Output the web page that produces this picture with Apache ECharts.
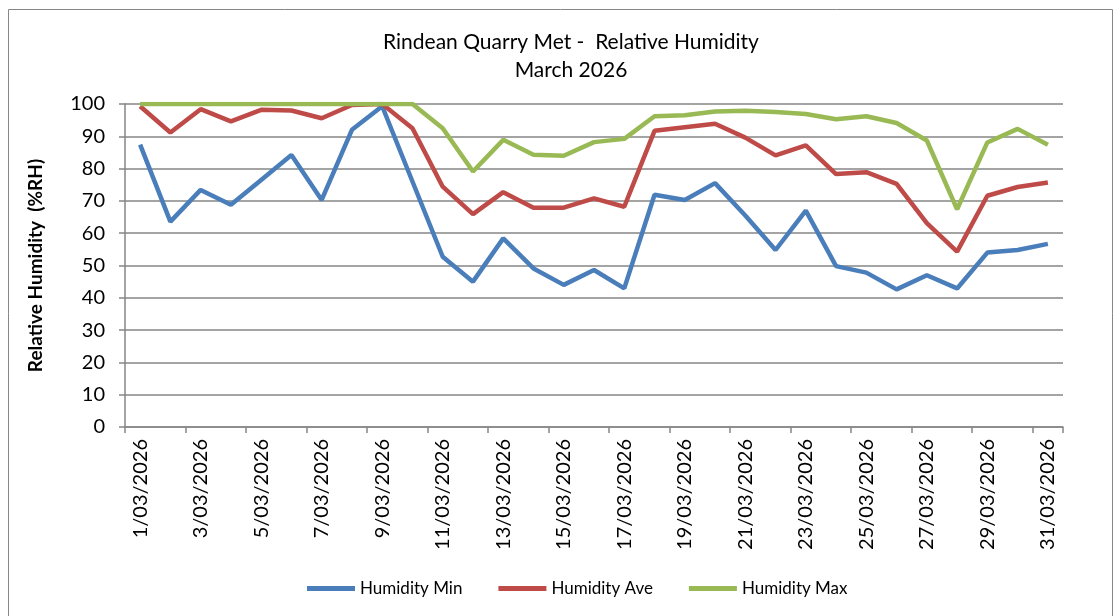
<!DOCTYPE html>
<html><head><meta charset="utf-8">
<script src="https://cdn.jsdelivr.net/npm/echarts@6/dist/echarts.min.js"></script>
<style>html,body{margin:0;padding:0;background:#fff}#c{width:1120px;height:616px}</style>
</head><body><div id="c"></div>
<script>
const categories = [];
for (let d = 1; d <= 31; d++) categories.push(d + '/03/2026');
const humidityMin = [87.4,63.6,73.4,68.8,76.5,84.2,70.3,92,99.3,76,52.7,45.0,58.4,49.1,44.0,48.6,42.9,71.9,70.3,75.5,65.5,54.8,67.0,49.8,47.8,42.6,47.0,42.9,54.0,54.8,56.7];
const humidityAve = [99.3,91.2,98.4,94.6,98.2,98.0,95.6,99.7,100,92.5,74.4,65.9,72.7,67.9,67.9,70.8,68.2,91.7,92.8,93.9,89.6,84.1,87.2,78.3,78.9,75.3,63.1,54.3,71.6,74.3,75.7];
const humidityMax = [100,100,100,100,100,100,100,100,100,100,92.5,79.1,88.9,84.3,84.0,88.2,89.2,96.2,96.5,97.7,97.9,97.5,96.9,95.3,96.2,94.1,88.7,67.4,88.1,92.3,87.4];
const seriesNames = ['Humidity Min','Humidity Ave','Humidity Max'];
const colors = ['#4A7EBB','#BE4B48','#98B954'];
const font = 'Lato, "Open Sans", sans-serif';

const chart = echarts.init(document.getElementById('c'));
const mk = (name, data, color) => ({
  name, type: 'line', data, showSymbol: false, symbol: 'none',
  lineStyle: { color, width: 4.5 }, itemStyle: { color }, z: 3
});
chart.setOption({
  animation: false,
  textStyle: { fontFamily: font },
  graphic: [{ type: 'rect', shape: { x: 8.5, y: 9.5, width: 1104, height: 620 }, style: { fill: 'none', stroke: '#868686', lineWidth: 1 } }],
  title: {
    text: 'Rindean Quarry Met -  Relative Humidity\nMarch 2026',
    left: 566, top: 23, textAlign: 'center',
    textStyle: { fontFamily: font, fontSize: 21, fontWeight: 'normal', color: '#000', lineHeight: 28 }
  },
  legend: {
    data: seriesNames, bottom: 14, left: 302, icon: 'rect', itemWidth: 48, itemHeight: 5,
    itemGap: 36, textStyle: { fontFamily: font, fontSize: 17, color: '#000' }
  },
  grid: { left: 125, right: 57, top: 104, bottom: 189, containLabel: false },
  xAxis: {
    type: 'category', data: categories, boundaryGap: true,
    axisLine: { lineStyle: { color: '#868686', width: 1.5 } },
    axisTick: { show: true, interval: 1, length: 6, lineStyle: { color: '#868686', width: 1.5 } },
    axisLabel: { interval: 1, rotate: 90, fontSize: 20, color: '#000', margin: 12, fontFamily: font }
  },
  yAxis: {
    type: 'value', min: 0, max: 100, interval: 10,
    name: 'Relative Humidity  (%RH)', nameLocation: 'middle', nameGap: 80,
    nameTextStyle: { fontFamily: font, fontSize: 19, fontWeight: 'bold', color: '#000' },
    axisLine: { show: true, lineStyle: { color: '#868686', width: 1.5 } },
    axisTick: { show: true, length: 6, lineStyle: { color: '#868686', width: 1.5 } },
    axisLabel: { fontSize: 20, color: '#000', margin: 20, fontFamily: font },
    splitLine: { lineStyle: { color: '#868686', width: 1.5 } }
  },
  series: [mk(seriesNames[0], humidityMin, colors[0]), mk(seriesNames[1], humidityAve, colors[1]), mk(seriesNames[2], humidityMax, colors[2])]
});
</script></body></html>
